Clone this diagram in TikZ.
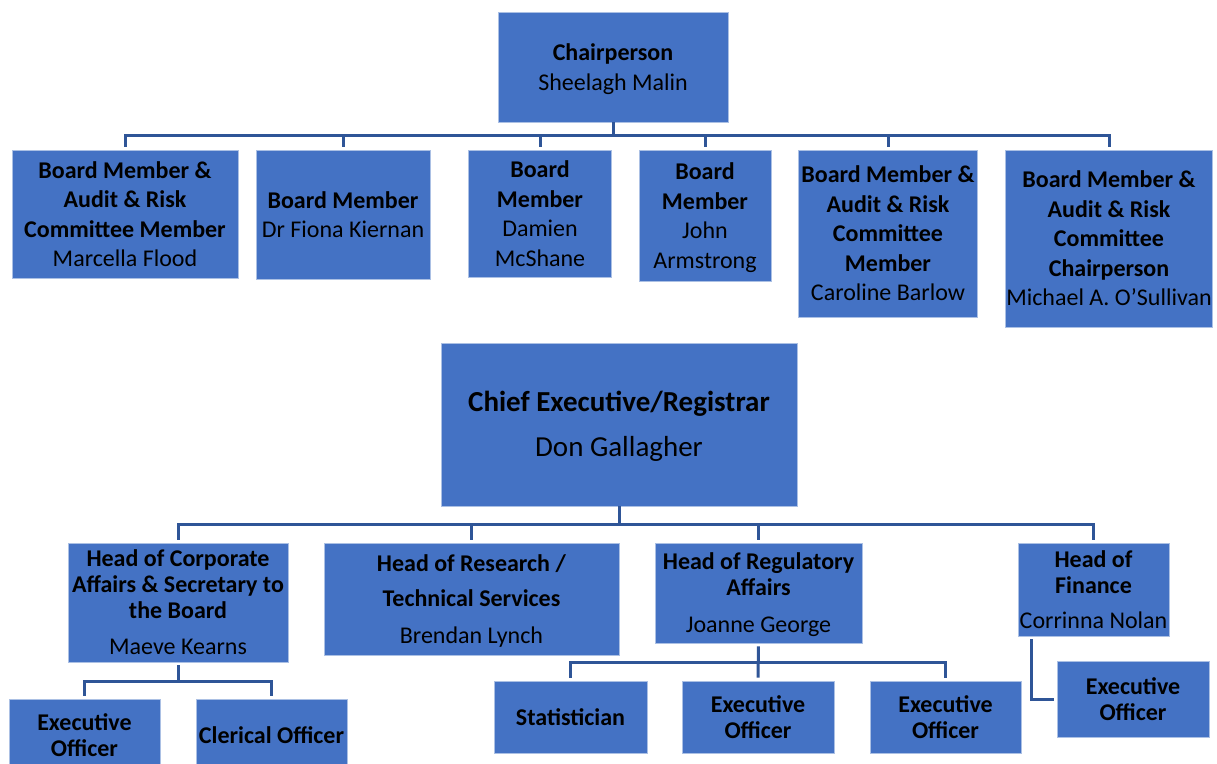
\documentclass[tikz,border=0pt]{standalone}
\usepackage{fontspec}
\setmainfont{Carlito}
\definecolor{boxblue}{HTML}{4472C4}
\definecolor{linkblue}{HTML}{2F5597}
\begin{document}
\begin{tikzpicture}[x=1pt, y=-1pt,
    orgbox/.style={rectangle, fill=boxblue, draw=white!55!boxblue, line width=0.8pt, inner sep=0pt, align=center, text depth=-2pt, font=\fontsize{24}{29.5}\selectfont},
    headbox/.style={orgbox, font=\fontsize{24}{26}\selectfont},
    link/.style={draw=linkblue, line width=3pt, line join=miter}]

        \useasboundingbox (0,0) rectangle (1217,763);

        % === Board ===
        \node[orgbox, minimum width=230, minimum height=110] (chair) at (613,67) {\textbf{Chairperson}\\Sheelagh Malin};

        \node[orgbox, minimum width=226, minimum height=128] (b1) at (125,214) {\textbf{Board Member \&}\\\textbf{Audit \& Risk}\\\textbf{Committee Member}\\Marcella Flood};
        \node[orgbox, minimum width=174, minimum height=129] (b2) at (343,214.5) {\textbf{Board Member}\\Dr Fiona Kiernan};
        \node[orgbox, minimum width=143, minimum height=127] (b3) at (540,213.5) {\textbf{Board}\\\textbf{Member}\\Damien\\McShane};
        \node[orgbox, minimum width=132, minimum height=131] (b4) at (705,215.5) {\textbf{Board}\\\textbf{Member}\\John\\Armstrong};
        \node[orgbox, minimum width=179, minimum height=167] (b5) at (888,233.5) {\textbf{Board Member \&}\\\textbf{Audit \& Risk}\\\textbf{Committee}\\\textbf{Member}\\Caroline Barlow};
        \node[orgbox, minimum width=207, minimum height=177] (b6) at (1109,238.5) {\textbf{Board Member \&}\\\textbf{Audit \& Risk}\\\textbf{Committee}\\\textbf{Chairperson}\\Michael A. O'Sullivan};

        \coordinate (topbus) at (613,135);

        % Connections (Board)
        \draw[link] (chair.south) -- (chair.south |- topbus);
        \draw[link, shorten <=3pt, shorten >=3pt] (b1.north) -- (b1.north |- topbus) -- (b6.north |- topbus) -- (b6.north);
        \foreach \b in {b2,b3,b4,b5}
            \draw[link, shorten >=3pt] (\b.north |- topbus) -- (\b.north);

        % === Executive ===
        \node[orgbox, minimum width=356, minimum height=163, text depth=1pt, font=\fontsize{29}{35}\selectfont] (ceo) at (619,424.5) {\textbf{Chief Executive/Registrar}\\[10pt]Don Gallagher};

        \node[headbox, minimum width=220, minimum height=119] (h1) at (178,602.5) {\textbf{Head of Corporate}\\\textbf{Affairs \& Secretary to}\\\textbf{the Board}\\[10pt]Maeve Kearns};
        \node[headbox, minimum width=295, minimum height=112] (h2) at (471.5,599) {\textbf{Head of Research /}\\[9pt]\textbf{Technical Services}\\[11pt]Brendan Lynch};
        \node[headbox, minimum width=207, minimum height=100] (h3) at (758.5,593) {\textbf{Head of Regulatory}\\\textbf{Affairs}\\[11pt]Joanne George};
        \node[headbox, minimum width=151, minimum height=93] (h4) at (1093.5,589.5) {\textbf{Head of}\\\textbf{Finance}\\[9pt]Corrinna Nolan};

        \coordinate (ceobus) at (619,524);

        % Connections (Executive)
        \draw[link] (ceo.south) -- (ceo.south |- ceobus);
        \draw[link, shorten <=3pt, shorten >=3pt] (h1.north) -- (h1.north |- ceobus) -- (h4.north |- ceobus) -- (h4.north);
        \foreach \h in {h2,h3}
            \draw[link, shorten >=3pt] (\h.north |- ceobus) -- (\h.north);

        % === Staff ===
        \node[headbox, minimum width=151, minimum height=72] (e1) at (84.5,735) {\textbf{Executive}\\\textbf{Officer}};
        \node[headbox, minimum width=151, minimum height=72] (c1) at (271.5,735) {\textbf{Clerical Officer}};

        \node[headbox, minimum width=153, minimum height=72] (s1) at (570.5,717) {\textbf{Statistician}};
        \node[headbox, minimum width=152, minimum height=72] (e2) at (758,717) {\textbf{Executive}\\\textbf{Officer}};
        \node[headbox, minimum width=151, minimum height=72] (e3) at (945.5,717) {\textbf{Executive}\\\textbf{Officer}};

        \node[headbox, minimum width=152, minimum height=76] (e4) at (1133,699) {\textbf{Executive}\\\textbf{Officer}};

        \coordinate (corpbus) at (178,681);
        \coordinate (regbus) at (758,662);

        % Connections (Staff)
        \draw[link, shorten <=3pt] (h1.south) -- (h1.south |- corpbus);
        \draw[link, shorten <=3pt, shorten >=3pt] (e1.north) -- (e1.north |- corpbus) -- (c1.north |- corpbus) -- (c1.north);

        \draw[link, shorten <=3pt, shorten >=3pt] (h3.south) -- (e2.north);
        \draw[link, shorten <=3pt, shorten >=3pt] (s1.north) -- (s1.north |- regbus) -- (e3.north |- regbus) -- (e3.north);

        \draw[link, shorten <=3pt, shorten >=3pt] ([xshift=14pt]h4.south west) -- ([xshift=14pt]h4.south west |- e4.west) -- (e4.west);

\end{tikzpicture}
\end{document}
